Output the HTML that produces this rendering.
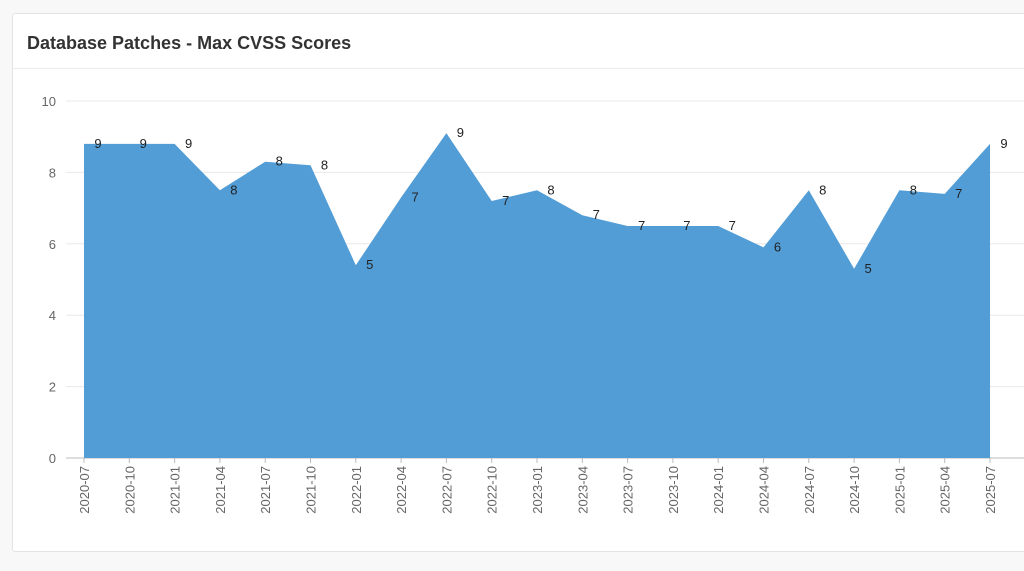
<!DOCTYPE html>
<html><head><meta charset="utf-8"><style>
body{margin:0;width:1024px;height:571px;background:#f8f8f8;font-family:"Liberation Sans",sans-serif;overflow:hidden}
.card{position:absolute;left:12px;top:13px;width:1020px;height:537px;background:#fff;border:1px solid #e3e3e3;border-radius:3px}
.hdr{height:54px;border-bottom:1px solid #ececec}
.hdr h1{margin:0;padding:19px 0 0 14px;font-size:18px;font-weight:bold;color:#333}
svg{position:absolute;left:0;top:0}
</style></head><body>
<div class="card">
<div class="hdr"><h1>Database Patches - Max CVSS Scores</h1></div>
</div>
<svg id="c" width="1024" height="571"></svg>
<script>
const categories=["2020-07","2020-10","2021-01","2021-04","2021-07","2021-10","2022-01","2022-04","2022-07","2022-10","2023-01","2023-04","2023-07","2023-10","2024-01","2024-04","2024-07","2024-10","2025-01","2025-04","2025-07"];
const values=[8.8,8.8,8.8,7.5,8.3,8.2,5.4,7.3,9.1,7.2,7.5,6.8,6.5,6.5,6.5,5.9,7.5,5.3,7.5,7.4,8.8];
const yTicks=[0,2,4,6,8,10];
const NS="http://www.w3.org/2000/svg";
const svg=document.getElementById('c');
const x0=84,x1=990,y0=458,y1=101;
const xs=i=>x0+(x1-x0)*i/(categories.length-1);
const ys=v=>y0-(y0-y1)*v/10;
function mk(t,a){const e=document.createElementNS(NS,t);for(const k in a)e.setAttribute(k,a[k]);svg.appendChild(e);return e;}
yTicks.forEach(t=>{
 const l=mk('line',{x1:66,x2:1024,y1:ys(t),y2:ys(t),stroke:t==0?'#bbb':'#e8e8e8','stroke-width':1});
 
 
 const tx=mk('text',{x:56,y:ys(t)+5,'text-anchor':'end','font-size':13,fill:'#666'});
 tx.textContent=t;
 
 
});
let d='M'+xs(0)+','+y0;
values.forEach((v,i)=>{d+=' L'+xs(i)+','+ys(v);});
d+=' L'+xs(values.length-1)+','+y0+' Z';
const area=mk('path',{d:d,fill:'#529dd6'});


values.forEach((v,i)=>{
 const t=mk('text',{x:xs(i)+14,y:ys(v)+4,'text-anchor':'middle','font-size':13,fill:'#222'});
 t.textContent=Math.round(v);
 
 
});
categories.forEach((c,i)=>{
 const x=xs(i);
 const tk=mk('line',{x1:x,x2:x,y1:y0,y2:y0+5,stroke:'#bbb'});
 
 
 const t=mk('text',{x:0,y:0,'text-anchor':'end','font-size':13,fill:'#666',transform:`translate(${x+5},${y0+8}) rotate(-90)`});
 t.textContent=c;
 
 
});
</script>
</body></html>
